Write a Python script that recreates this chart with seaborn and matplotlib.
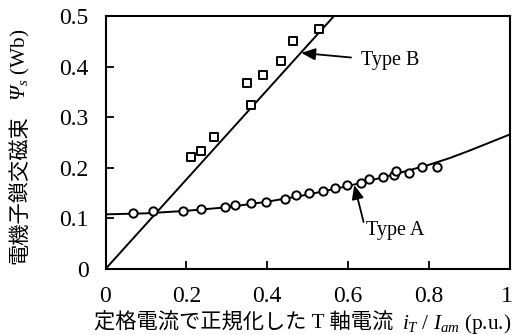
import matplotlib
matplotlib.use("Agg")
import matplotlib.pyplot as plt
from matplotlib.transforms import IdentityTransform, ScaledTranslation
import seaborn as sns
import pandas as pd

# Type A (circles)
a_x = [0.069, 0.117, 0.192, 0.236, 0.296, 0.320, 0.360, 0.397, 0.444, 0.470,
       0.504, 0.537, 0.568, 0.598, 0.632, 0.651, 0.687, 0.712, 0.718, 0.751,
       0.782, 0.820]
a_y = [0.110, 0.114, 0.115, 0.118, 0.122, 0.126, 0.130, 0.133, 0.138, 0.147,
       0.150, 0.154, 0.161, 0.166, 0.170, 0.178, 0.181, 0.185, 0.194, 0.190,
       0.201, 0.202]
# Type A fitted curve
a_fit_x = [0.0, 0.1, 0.2, 0.3, 0.4, 0.5, 0.6, 0.7, 0.8, 0.85, 0.9, 0.95, 1.0]
a_fit_y = [0.108, 0.110, 0.115, 0.122, 0.133, 0.147, 0.164, 0.184, 0.206, 0.219, 0.234, 0.250, 0.266]

# Type B (squares)
b_x = [0.211, 0.236, 0.267, 0.350, 0.360, 0.390, 0.434, 0.463, 0.529]
b_y = [0.222, 0.233, 0.261, 0.368, 0.324, 0.383, 0.411, 0.450, 0.474]
b_fit_x = [0.0, 0.565]
b_fit_y = [0.0, 0.5]

x_ticks = [0, 0.2, 0.4, 0.6, 0.8, 1.0]
x_ticklabels = ["0", "0.2", "0.4", "0.6", "0.8", "1"]
y_ticks = [0, 0.1, 0.2, 0.3, 0.4, 0.5]
y_ticklabels = ["0", "0.1", "0.2", "0.3", "0.4", "0.5"]

xlabel_jp = "定格電流で正規化した T 軸電流"
xlabel_math = r"$i_T$ / $I_{am}$ (p.u.)"
ylabel_jp = "電機子鎖交磁束"
ylabel_math = r"$\mathcal{\Psi}_s$ (Wb)"

sns.set_theme(style="ticks")
plt.rcParams["font.family"] = ["Liberation Serif", "Noto Sans CJK JP", "DejaVu Sans"]
plt.rcParams["mathtext.fontset"] = "custom"
plt.rcParams["mathtext.rm"] = "Liberation Serif"
plt.rcParams["mathtext.it"] = "Liberation Serif:italic"
plt.rcParams["mathtext.cal"] = "Liberation Serif:italic"
plt.rcParams["mathtext.bf"] = "Liberation Serif:bold"

fig = plt.figure(figsize=(5.13, 3.35), dpi=100)
ax = fig.add_axes([105.5 / 513, 66 / 335, 404.5 / 513, 253 / 335])

dfa = pd.DataFrame({"x": a_x, "y": a_y})
dfb = pd.DataFrame({"x": b_x, "y": b_y})
dfaf = pd.DataFrame({"x": a_fit_x, "y": a_fit_y})
dfbf = pd.DataFrame({"x": b_fit_x, "y": b_fit_y})

sns.lineplot(data=dfaf, x="x", y="y", ax=ax, color="black", lw=1.4, sort=False, zorder=2)
sns.lineplot(data=dfbf, x="x", y="y", ax=ax, color="black", lw=1.4, sort=False, zorder=2)
sns.scatterplot(data=dfa, x="x", y="y", ax=ax, marker="o", s=36, facecolor="white",
                edgecolor="black", linewidth=1.4, zorder=3)
sns.scatterplot(data=dfb, x="x", y="y", ax=ax, marker="s", s=32, facecolor="white",
                edgecolor="black", linewidth=1.4, zorder=3)

ax.set_xlim(0, 1)
ax.set_ylim(0, 0.5)
ax.set_xticks(x_ticks)
ax.set_xticklabels(x_ticklabels)
ax.set_yticks(y_ticks)
ax.set_yticklabels(y_ticklabels)
ax.tick_params(direction="in", length=6, width=1.3, labelsize=17, pad=12, colors="black")
for sp in ax.spines.values():
    sp.set_linewidth(1.5)
    sp.set_color("black")
    sp.set_visible(True)
ax.set_xlabel("")
ax.set_ylabel("")

# keep the last x tick label inside the figure
last = ax.get_xticklabels()[-1]
last.set_transform(last.get_transform() + ScaledTranslation(-3 / 100, 0, fig.dpi_scale_trans))

arrow = dict(arrowstyle="-|>,head_length=0.7,head_width=0.3", color="black", lw=1.3,
             shrinkA=0, shrinkB=0)
ax.annotate("", xy=(0.484, 0.427), xytext=(0.607, 0.418), arrowprops=arrow)
ax.text(0.632, 0.413, "Type B", fontsize=14.5, ha="left", va="center", color="black")
ax.annotate("", xy=(0.615, 0.166), xytext=(0.638, 0.093), arrowprops=arrow)
ax.text(0.644, 0.076, "Type A", fontsize=14.5, ha="left", va="center", color="black")

# Compose axis labels from separate text pieces (CJK + mathtext)
fig.canvas.draw()
r = fig.canvas.get_renderer()
H = 335

# x label
xt1 = fig.text(0, 0, xlabel_jp, fontsize=15.3, ha="left", va="baseline",
               transform=IdentityTransform(), color="black")
xt2 = fig.text(0, 0, xlabel_math, fontsize=15.3, ha="left", va="baseline",
               transform=IdentityTransform(), color="black")
w1 = xt1.get_window_extent(r).width
w2 = xt2.get_window_extent(r).width
gap = 8
total = w1 + gap + w2
x0 = 305 - total / 2
x0 = min(x0, 511 - total)
base_y = H - 329
xt1.set_position((x0, base_y))
xt2.set_position((x0 + w1 + gap, base_y))

# y label (rotated)
yt1 = fig.text(0, 0, ylabel_jp, fontsize=15.3, ha="left", va="baseline", rotation=90,
               rotation_mode="anchor", transform=IdentityTransform(), color="black")
yt2 = fig.text(0, 0, ylabel_math, fontsize=15.3, ha="left", va="baseline", rotation=90,
               rotation_mode="anchor", transform=IdentityTransform(), color="black")
h1 = yt1.get_window_extent(r).height
h2 = yt2.get_window_extent(r).height
ygap = 14
ytotal = h1 + ygap + h2
y0 = (H - 146) - ytotal / 2
base_x = 25
yt1.set_position((base_x, y0))
yt2.set_position((base_x, y0 + h1 + ygap))

fig.savefig("out.png", dpi=100)
